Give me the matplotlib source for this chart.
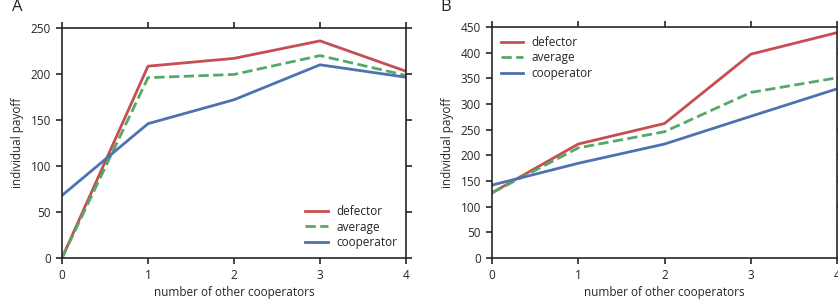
import matplotlib
matplotlib.use('Agg')
import matplotlib.pyplot as plt

plt.rcParams['font.family'] = ['Open Sans', 'DejaVu Sans']

x = [0, 1, 2, 3, 4]

a_defector = [0, 208.5, 217, 236, 203]
a_average = [0, 196, 199.5, 220, 198.5]
a_cooperator = [68, 146, 172, 210, 196.5]

b_defector = [127, 222, 262, 397, 439]
b_average = [127, 214.5, 246, 322.5, 351]
b_cooperator = [142, 184.5, 222, 276, 329.5]

red = '#C44E52'
green = '#55A868'
blue = '#4C72B0'
dark = '#262626'

fig = plt.figure(figsize=(8.38, 3.08), dpi=100)
ax_a = fig.add_axes([62 / 838, 1 - 258 / 308, 344 / 838, 230 / 308])
ax_b = fig.add_axes([492 / 838, 1 - 258 / 308, 345 / 838, 231 / 308])

panels = [
    (ax_a, 'A', a_defector, a_average, a_cooperator, 250, 50, 'lower right'),
    (ax_b, 'B', b_defector, b_average, b_cooperator, 450, 50, 'upper left'),
]

for ax, letter, d, a, c, ymax, step, loc in panels:
    ax.plot(x, d, color=red, lw=2, label='defector')
    ax.plot(x, a, color=green, lw=2, ls='--', label='average')
    ax.plot(x, c, color=blue, lw=2, label='cooperator')
    ax.set_xlim(0, 4)
    ax.set_ylim(0, ymax)
    ax.set_xticks(x)
    ax.set_yticks(range(0, ymax + 1, step))
    ax.tick_params(direction='out', length=4, width=1.2, colors=dark,
                   labelsize=8.5, top=True, right=True, pad=4)
    for s in ax.spines.values():
        s.set_color(dark)
        s.set_linewidth(1.2)
    ax.set_xlabel('number of other cooperators', fontsize=8.5, color=dark, labelpad=3)
    ax.set_ylabel('individual payoff', fontsize=8.5, color=dark, labelpad=5)
    leg = ax.legend(loc=loc, frameon=False, fontsize=8.5, handlelength=1.9,
                    labelspacing=0.22, handletextpad=0.7, borderaxespad=0.35)
    for t in leg.get_texts():
        t.set_color(dark)

fig.text(12 / 838, 1 - 7 / 308, 'A', fontsize=12, color=dark, va='center', ha='left')
fig.text(440 / 838, 1 - 7 / 308, 'B', fontsize=12, color=dark, va='center', ha='left')

fig.savefig('out.png', dpi=100)
